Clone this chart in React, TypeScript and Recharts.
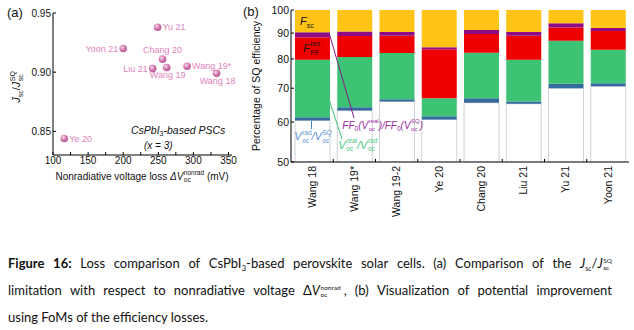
import React from "react";
import { Bar, BarChart, Scatter, ScatterChart, XAxis, YAxis } from "recharts";

const FONT = "'Liberation Sans', Arial, Helvetica, sans-serif";
const INK = "#111";

// (a) Jsc/JscSQ against the nonradiative voltage loss
const pointNames = ["Yu 21", "Yoon 21", "Chang 20", "Liu 21", "Wang 19", "Wang 19*", "Wang 18", "Ye 20"];
const nonradLoss = [249, 200, 256, 242, 262, 291, 333, 116];
const jscRatio = [0.938, 0.92, 0.911, 0.903, 0.904, 0.905, 0.899, 0.844];
const nameSide = ["right", "left", "top", "left", "bottom", "right", "bottom", "right"];
const lossTicks = [100, 125, 150, 175, 200, 225, 250, 275, 300, 325, 350];
const ratioTicks = [0.85, 0.9, 0.95];

// (b) percentage of SQ efficiency, lower edge of each loss band
const studies = ["Wang 18", "Wang 19*", "Wang 19-2", "Ye 20", "Chang 20", "Liu 21", "Yu 21", "Yoon 21"];
const blueFrom = [60.4, 63.2, 65.9, 60.7, 65.5, 65.2, 70.0, 70.6];
const greenFrom = [61.3, 64.2, 66.6, 61.6, 66.9, 65.9, 71.4, 71.6];
const redFrom = [79.7, 80.7, 82.2, 66.9, 82.3, 79.7, 86.9, 83.4];
const purpleFrom = [88.3, 88.8, 88.9, 83.6, 89.6, 88.9, 92.3, 90.9];
const yellowFrom = [90.3, 90.7, 90.5, 84.4, 91.3, 90.5, 94.1, 92.1];
const pctTicks = [50, 60, 70, 80, 90, 100];

const dotRows = pointNames.map((name, i) => ({ name, x: nonradLoss[i], y: jscRatio[i], side: nameSide[i] }));

const floor = pctTicks[0];
const top = pctTicks[pctTicks.length - 1];
const barRows = studies.map((name, i) => ({
  name,
  mid: i + 0.5,
  rest: [floor, blueFrom[i]],
  vocRad: [blueFrom[i], greenFrom[i]],
  vocReal: [greenFrom[i], redFrom[i]],
  ffRes: [redFrom[i], purpleFrom[i]],
  ff0: [purpleFrom[i], yellowFrom[i]],
  fsc: [yellowFrom[i], top],
}));

const bands = [
  { key: "rest", fill: "#ffffff", stroke: "#c3c7d0" },
  { key: "vocRad", fill: "#336b9f" },
  { key: "vocReal", fill: "#3dc373" },
  { key: "ffRes", fill: "#ee0000" },
  { key: "ff0", fill: "#8d0c86" },
  { key: "fsc", fill: "#ffc416" },
];

const edgeTicks = studies.flatMap((_, i) => (i === 0 ? [0.5] : [i, i + 0.5]));
const innerEdges = studies.slice(1).map((_, i) => i + 1);

function PinkDot(props: any) {
  const { cx, cy, payload } = props;
  if (cx == null || cy == null) return null;
  let tx = cx + 5;
  let ty = cy + 3.2;
  let anchor = "start";
  if (payload.side === "left") {
    tx = cx - 5;
    anchor = "end";
  }
  if (payload.side === "top") {
    tx = cx;
    ty = cy - 6.5;
    anchor = "middle";
  }
  if (payload.side === "bottom") {
    tx = cx + 1;
    ty = cy + 10.5;
    anchor = "middle";
  }
  return (
    <g>
      <circle cx={cx} cy={cy} r={3.8} fill="url(#pinkBall)" />
      <text x={tx} y={ty} textAnchor={anchor} fontSize={9} fill="#e183bd" fontFamily={FONT}>
        {payload.name}
      </text>
    </g>
  );
}

function EdgeTick(props: any) {
  const { x, y, payload } = props;
  const v = payload.value;
  if (Number.isInteger(v)) return <line x1={x} x2={x} y1={y} y2={y - 3} stroke="#000" />;
  return (
    <text
      x={x}
      y={y + 4}
      dy="0.35em"
      transform={`rotate(-90 ${x} ${y + 4})`}
      textAnchor="end"
      fontSize={10.5}
      fontFamily={FONT}
      fill={INK}
    >
      {studies[Math.floor(v)]}
    </text>
  );
}

// stacked super/subscript pair
function Stack({ sup, sub, size = 6.5, gap = 8, lift = 5.5 }: any) {
  return (
    <span
      style={{
        display: "inline-flex",
        flexDirection: "column",
        fontSize: size,
        lineHeight: `${gap}px`,
        position: "relative",
        top: -lift,
        fontStyle: "normal",
        marginLeft: 0.5,
      }}
    >
      <span>{sup || "\u00a0"}</span>
      <span>{sub || "\u00a0"}</span>
    </span>
  );
}

function Sub({ t, size = 7, drop = 2.5 }: any) {
  return <span style={{ fontSize: size, position: "relative", top: drop, fontStyle: "normal" }}>{t}</span>;
}

function Ann({ x, base, size = 11, color = INK, italic = false, children }: any) {
  return (
    <div
      style={{
        position: "absolute",
        left: x,
        top: base - 0.85 * size,
        fontSize: size,
        lineHeight: `${size}px`,
        color,
        whiteSpace: "nowrap",
        fontFamily: FONT,
        fontStyle: italic ? "italic" : "normal",
      }}
    >
      {children}
    </div>
  );
}

const capLine: React.CSSProperties = {
  position: "absolute",
  left: 0,
  width: 604,
  display: "flex",
  justifyContent: "space-between",
  alignItems: "baseline",
  whiteSpace: "nowrap",
  lineHeight: "16px",
};

export default function App() {
  const blue = "#5b8fd4";
  const green = "#47c982";
  const purple = "#9a2a9e";
  return (
    <div style={{ position: "absolute", left: 0, top: 0, width: 634, height: 330, background: "#fff", overflow: "hidden" }}>
      <div style={{ position: "absolute", left: 0, top: 0 }}>
        <ScatterChart width={240} height={190} margin={{ top: 13, right: 8, bottom: 0, left: 0 }}>
          <defs>
            <radialGradient id="pinkBall" cx="38%" cy="35%" r="65%">
              <stop offset="0%" stopColor="#f8d8ea" />
              <stop offset="55%" stopColor="#d77db5" />
              <stop offset="100%" stopColor="#b45592" />
            </radialGradient>
          </defs>
          <XAxis
            dataKey="x"
            type="number"
            domain={[100, 355]}
            ticks={lossTicks}
            interval={0}
            tickFormatter={(v: number) => (v % 50 === 0 ? String(v) : "")}
            height={35}
            tickSize={-3}
            tickMargin={5}
            stroke="#000"
            tick={{ fill: INK, fontSize: 10, fontFamily: FONT }}
          />
          <XAxis
            xAxisId="top"
            orientation="top"
            type="number"
            domain={[100, 355]}
            allowDataOverflow
            ticks={lossTicks}
            interval={0}
            height={0}
            mirror
            tick={false}
            tickSize={3}
            stroke="#000"
          />
          <YAxis
            dataKey="y"
            type="number"
            domain={[0.83, 0.95]}
            ticks={ratioTicks}
            interval={0}
            tickFormatter={(v: number) => v.toFixed(2)}
            width={53}
            tickSize={-3}
            tickMargin={5}
            stroke="#000"
            tick={{ fill: INK, fontSize: 10, fontFamily: FONT }}
          />
          <YAxis
            yAxisId="right"
            orientation="right"
            type="number"
            domain={[0.83, 0.95]}
            allowDataOverflow
            ticks={ratioTicks}
            interval={0}
            width={0}
            mirror
            tick={false}
            tickSize={3}
            stroke="#000"
          />
          <Scatter data={dotRows} shape={PinkDot} isAnimationActive={false} />
        </ScatterChart>
      </div>

      <div style={{ position: "absolute", left: 240, top: 0 }}>
        <BarChart width={394} height={250} data={barRows} margin={{ top: 10, right: 5, bottom: 0, left: 0 }} barSize={35}>
          {bands.map((b) => (
            <XAxis key={b.key} xAxisId={b.key} dataKey="name" type="category" hide />
          ))}
          <XAxis
            xAxisId="edge"
            dataKey="mid"
            type="number"
            domain={[0, studies.length]}
            allowDataOverflow
            ticks={edgeTicks}
            interval={0}
            height={88}
            tickLine={false}
            tickSize={0}
            tickMargin={0}
            tick={EdgeTick}
            stroke="#000"
          />
          <XAxis
            xAxisId="edgeTop"
            dataKey="mid"
            orientation="top"
            type="number"
            domain={[0, studies.length]}
            allowDataOverflow
            ticks={innerEdges}
            interval={0}
            height={0}
            mirror
            tick={false}
            tickSize={3}
            stroke="#000"
          />
          <YAxis
            yAxisId="pct"
            type="number"
            scale="log"
            domain={[floor, top]}
            allowDataOverflow
            ticks={pctTicks}
            interval={0}
            width={51}
            tickSize={-3}
            tickMargin={5}
            stroke="#000"
            tick={{ fill: INK, fontSize: 10.5, fontFamily: FONT }}
          />
          <YAxis
            yAxisId="pctRight"
            orientation="right"
            type="number"
            scale="log"
            domain={[floor, top]}
            allowDataOverflow
            ticks={pctTicks}
            interval={0}
            width={0}
            mirror
            tick={false}
            tickSize={3}
            stroke="#000"
          />
          {bands.map((b) => (
            <Bar
              key={b.key}
              xAxisId={b.key}
              yAxisId="pct"
              dataKey={b.key}
              fill={b.fill}
              stroke={b.stroke}
              strokeWidth={b.stroke ? 0.8 : 0}
              isAnimationActive={false}
            />
          ))}
        </BarChart>
      </div>

      {/* leader lines of panel (b) */}
      <svg width={634} height={330} style={{ position: "absolute", left: 0, top: 0, pointerEvents: "none" }}>
        <line x1={329.5} y1={34.5} x2={354} y2={118} stroke="#8a1a8a" strokeWidth={1} />
        <line x1={329.5} y1={101} x2={342} y2={139} stroke="#3dc373" strokeWidth={1} />
        <line x1={311.5} y1={121} x2={311.5} y2={129} stroke="#4a80c4" strokeWidth={1} />
      </svg>

      {/* panel letters and axis titles */}
      <Ann x={7} base={17.5} size={13}>(a)</Ann>
      <Ann x={243} base={16.5} size={13}>(b)</Ann>

      <div
        style={{
          position: "absolute",
          left: 20,
          top: 87,
          transform: "translate(-50%, -50%) rotate(-90deg)",
          fontFamily: FONT,
          fontSize: 11,
          lineHeight: "11px",
          color: INK,
          whiteSpace: "nowrap",
        }}
      >
        <i>J</i>
        <Sub t="sc" />/<i>J</i>
        <Stack sup="SQ" sub="sc" size={7} />
      </div>
      <div
        style={{
          position: "absolute",
          left: 142,
          top: 180 - 8.5,
          transform: "translateX(-50%)",
          fontFamily: FONT,
          fontSize: 10,
          lineHeight: "10px",
          color: INK,
          whiteSpace: "nowrap",
        }}
      >
        Nonradiative voltage loss <i>ΔV</i>
        <Stack sup="nonrad" sub="oc" size={6.5} gap={7.5} lift={5} /> (mV)
      </div>
      <Ann x={131} base={134} size={10.5} italic>
        CsPbI<Sub t="3" size={7} drop={2} />-based PSCs
      </Ann>
      <Ann x={144} base={149} size={10} italic>
        (x = 3)
      </Ann>

      <div
        style={{
          position: "absolute",
          left: 256,
          top: 86,
          transform: "translate(-50%, -50%) rotate(-90deg)",
          fontFamily: FONT,
          fontSize: 10.5,
          lineHeight: "11px",
          color: INK,
          whiteSpace: "nowrap",
        }}
      >
        Percentage of SQ efficiency
      </div>

      {/* band annotations of panel (b) */}
      <Ann x={300} base={25.7} size={11}>
        <i>F</i>
        <Sub t="sc" />
      </Ann>
      <Ann x={303.3} base={52.3} size={11}>
        <i>F</i>
        <Stack sup="res" sub="FF" size={7} gap={9} lift={6} />
      </Ann>
      <Ann x={294.3} base={140.7} size={11} color={blue} italic>
        V<Stack sup="rad" sub="oc" />/V<Stack sup="SQ" sub="oc" />
      </Ann>
      <Ann x={338.3} base={149} size={11} color={green} italic>
        V<Stack sup="real" sub="oc" />/V<Stack sup="rad" sub="oc" />
      </Ann>
      <Ann x={342.3} base={129.3} size={10} color={purple} italic>
        FF<Sub t="0" size={6.5} />(V<Stack sup="real" sub="oc" size={6} />)/FF<Sub t="0" size={6.5} />(V
        <Stack sup="SQ" sub="oc" size={6} />)
      </Ann>

      {/* caption */}
      <div style={{ position: "absolute", left: 8, top: 0, width: 604, fontFamily: "Lato, 'Open Sans', sans-serif", fontSize: 13, color: "#111" }}>
        <div style={{ ...capLine, top: 255 }}>
          <b>Figure</b>
          <b>16:</b>
          <span>Loss</span>
          <span>comparison</span>
          <span>of</span>
          <span>
            CsPbI<Sub t="3" size={8} drop={3} />-based
          </span>
          <span>perovskite</span>
          <span>solar</span>
          <span>cells.</span>
          <span>(a)</span>
          <span>Comparison</span>
          <span>of</span>
          <span>the</span>
          <span>
            <i>J</i>
            <Sub t="sc" size={7} drop={2.5} />/<i>J</i>
            <Stack sup="SQ" sub="sc" size={6.5} gap={7} lift={5} />
          </span>
        </div>
        <div style={{ ...capLine, top: 282 }}>
          <span>limitation</span>
          <span>with</span>
          <span>respect</span>
          <span>to</span>
          <span>nonradiative</span>
          <span>voltage</span>
          <span>
            Δ<i>V</i>
            <Stack sup="nonrad" sub="oc" size={6.5} gap={7.5} lift={5.5} />
            <span style={{ marginLeft: 3 }}>,</span>
          </span>
          <span>(b)</span>
          <span>Visualization</span>
          <span>of</span>
          <span>potential</span>
          <span>improvement</span>
        </div>
        <div style={{ position: "absolute", left: 0, top: 309, lineHeight: "16px", whiteSpace: "nowrap" }}>
          using FoMs of the efficiency losses.
        </div>
      </div>
    </div>
  );
}
